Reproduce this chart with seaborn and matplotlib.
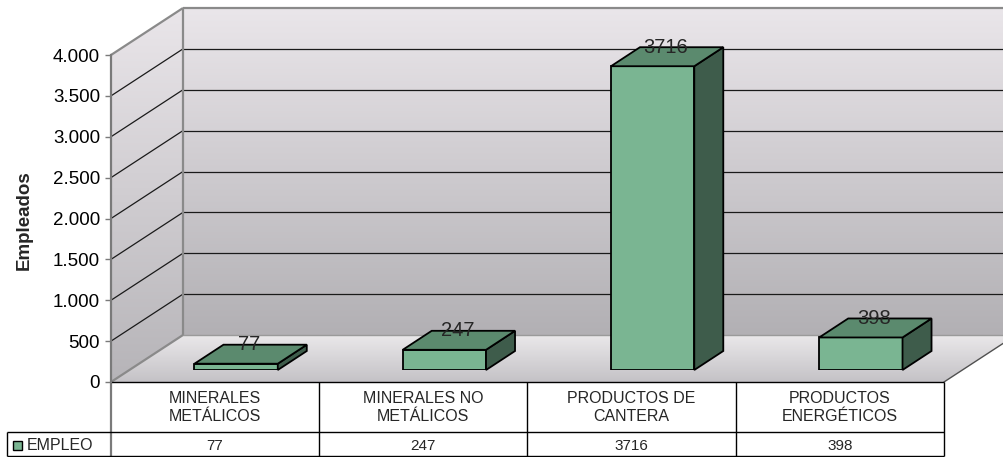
import numpy as np
import matplotlib
matplotlib.use('Agg')
import matplotlib.pyplot as plt
import seaborn as sns
import pandas as pd
from matplotlib.patches import Polygon, Rectangle
from matplotlib.transforms import IdentityTransform

# ---------------- data ----------------
categories = ["MINERALES\nMETÁLICOS", "MINERALES NO\nMETÁLICOS",
              "PRODUCTOS DE\nCANTERA", "PRODUCTOS\nENERGÉTICOS"]
values = [77, 247, 3716, 398]
series_name = "EMPLEO"
y_ticks = [0, 500, 1000, 1500, 2000, 2500, 3000, 3500, 4000]
y_label = "Empleados"

# ---------------- style ----------------
sns.set_style("white")
plt.rcParams['font.family'] = ['Liberation Sans', 'DejaVu Sans']

FRONT = '#7AB592'
TOP = '#5B8A6E'
SIDE = '#3E5C4B'
EDGE_GRAY = '#8a8a8a'

W, H = 1004, 457
fig = plt.figure(figsize=(W / 100, H / 100), dpi=100)
fig.patch.set_facecolor('white')

# background axes in pixel coordinates (walls, floor, table)
bg = fig.add_axes([0, 0, 1, 1])
bg.set_xlim(0, W)
bg.set_ylim(H, 0)
bg.axis('off')

FX0, FX1 = 111, 944      # front plane x extent
FY0 = 382                # front plane y of value 0
YMAX = y_ticks[-1]
PLOT_H = 327
PX_PER = PLOT_H / YMAX
DX, DY = 72, -47         # wall depth


def yf(v):
    return FY0 - v * PX_PER


def yb(v):
    return yf(v) + DY


def grad_fill(ax, pts, y_top, y_bot, c_top, c_bot, z):
    poly = Polygon(pts, closed=True, facecolor='none', edgecolor='none')
    ax.add_patch(poly)
    n = 256
    t = np.linspace(0, 1, n)[:, None]
    c0 = np.array(c_top) / 255.0
    c1 = np.array(c_bot) / 255.0
    img = (c0[None, :] * (1 - t) + c1[None, :] * t)[:, None, :]
    xs = [p[0] for p in pts]
    im = ax.imshow(img, extent=[min(xs), max(xs), y_bot, y_top], aspect='auto',
                   origin='upper', interpolation='bilinear', zorder=z)
    im.set_clip_path(poly)


# back wall
grad_fill(bg, [(FX0 + DX, yb(YMAX)), (FX1 + DX, yb(YMAX)), (FX1 + DX, yb(0)), (FX0 + DX, yb(0))],
          yb(YMAX), yb(0), (234, 230, 234), (178, 176, 180), 0)
# left side wall
grad_fill(bg, [(FX0, yf(YMAX)), (FX0 + DX, yb(YMAX)), (FX0 + DX, yb(0)), (FX0, yf(0))],
          yb(YMAX), yf(0), (234, 230, 234), (182, 180, 184), 0)
# floor
grad_fill(bg, [(FX0, yf(0)), (FX1, yf(0)), (FX1 + DX, yb(0)), (FX0 + DX, yb(0))],
          yb(0), yf(0), (234, 232, 234), (196, 194, 198), 0)

# gridlines
for v in y_ticks[1:-1]:
    bg.plot([FX0 + DX, FX1 + DX], [yb(v), yb(v)], color='#1a1a1a', lw=0.9, zorder=1)
    bg.plot([FX0, FX0 + DX], [yf(v), yb(v)], color='#1a1a1a', lw=0.9, zorder=1)

# wall / floor edges
ek = dict(color=EDGE_GRAY, lw=1.6, zorder=2, solid_capstyle='butt')
bg.plot([FX0 + DX, FX1 + DX], [yb(YMAX), yb(YMAX)], **ek)
bg.plot([FX0, FX0 + DX], [yf(YMAX), yb(YMAX)], **ek)
bg.plot([FX0 + DX, FX0 + DX], [yb(YMAX), yb(0)], **ek)
bg.plot([FX0 + DX, FX1 + DX], [yb(0), yb(0)], color='#9a9a9a', lw=1.0, zorder=2)
bg.plot([FX0, FX0 + DX], [yf(0), yb(0)], **ek)
bg.plot([FX1, FX1 + DX], [yf(0), yb(0)], color='#505050', lw=1.0, zorder=2)

# ---------------- value axis (front plane) ----------------
fax = fig.add_axes([FX0 / W, (H - FY0) / H, (FX1 - FX0) / W, PLOT_H / H])
fax.set_ylim(0, YMAX)
fax.set_xlim(0, 1)
fax.patch.set_alpha(0)
for s in ['top', 'right', 'bottom']:
    fax.spines[s].set_visible(False)
fax.spines['left'].set_color('#7a7a7a')
fax.spines['left'].set_linewidth(1.6)
fax.set_xticks([])
fax.set_yticks(y_ticks)
fax.set_yticklabels([f"{v:,}".replace(',', '.') for v in y_ticks])
fax.tick_params(axis='y', length=4.3, width=1.0, color='#7a7a7a', pad=3.5,
                labelsize=13.5, labelcolor='black', left=True)
# axis line continues through the data table
bg.plot([FX0, FX0], [FY0, 456], color='#7a7a7a', lw=1.6, zorder=3)

bg.text(24, 220, y_label, rotation=90, fontweight='bold', fontsize=13.5,
        ha='center', va='center')

# ---------------- bars ----------------
BAR_OFF_X, BAR_OFF_Y = 21, 12
bax = fig.add_axes([(FX0 + BAR_OFF_X) / W, (H - FY0 + BAR_OFF_Y) / H, (FX1 - FX0) / W, PLOT_H / H])
df = pd.DataFrame({'cat': categories, 'val': values})
sns.barplot(data=df, x='cat', y='val', width=0.4, color=FRONT, saturation=1,
            edgecolor='black', linewidth=1.3, ax=bax)
bax.set_xlim(-0.5, len(categories) - 0.5)
bax.set_ylim(0, YMAX)
bax.axis('off')

ddx, ddy = 29, 19
for p, v in zip(bax.patches, values):
    x0, w, h = p.get_x(), p.get_width(), p.get_height()
    X0, Y0 = bax.transData.transform((x0, 0))
    X1, Y1 = bax.transData.transform((x0 + w, h))
    top = [(X0, Y1), (X1, Y1), (X1 + ddx, Y1 + ddy), (X0 + ddx, Y1 + ddy)]
    side = [(X1, Y0), (X1, Y1), (X1 + ddx, Y1 + ddy), (X1 + ddx, Y0 + ddy)]
    bax.add_artist(Polygon(side, closed=True, transform=IdentityTransform(), facecolor=SIDE,
                           edgecolor='black', lw=1.3, joinstyle='miter', clip_on=False, zorder=3))
    bax.add_artist(Polygon(top, closed=True, transform=IdentityTransform(), facecolor=TOP,
                           edgecolor='black', lw=1.3, joinstyle='miter', clip_on=False, zorder=3))
    bax.annotate(str(v), xy=(x0 + w / 2, h), xytext=(13, ddy), textcoords='offset pixels',
                 ha='center', va='center', fontsize=14.5, zorder=10, annotation_clip=False)

# ---------------- data table ----------------
col_w = (FX1 - FX0) / len(categories)
ROW1_BOT, ROW2_BOT = 432, 456
LEFT_X = 7
tk = dict(color='black', lw=1.0, zorder=3, solid_capstyle='butt')
bg.plot([FX0, FX1], [FY0, FY0], **tk)
bg.plot([LEFT_X, FX1], [ROW1_BOT, ROW1_BOT], **tk)
bg.plot([LEFT_X, FX1], [ROW2_BOT, ROW2_BOT], **tk)
bg.plot([LEFT_X, LEFT_X], [ROW1_BOT, ROW2_BOT], **tk)
for i in range(1, len(categories) + 1):
    x = FX0 + i * col_w
    bg.plot([x, x], [FY0, ROW2_BOT], **tk)
for i, (c, v) in enumerate(zip(categories, values)):
    cx = FX0 + (i + 0.5) * col_w
    bg.text(cx, 407.5, c, ha='center', va='center', fontsize=11.5, linespacing=1.2, zorder=4)
    bg.text(cx, 445.5, str(v), ha='center', va='center', fontsize=11, zorder=4)
bg.add_patch(Rectangle((13, 440.5), 9, 9, facecolor=FRONT, edgecolor='black', lw=1.0, zorder=4))
bg.text(27, 445.5, series_name, ha='left', va='center', fontsize=11.5, zorder=4)

bg.set_xlim(0, W)
bg.set_ylim(H, 0)

fig.savefig('out.png', dpi=100, facecolor='white')
